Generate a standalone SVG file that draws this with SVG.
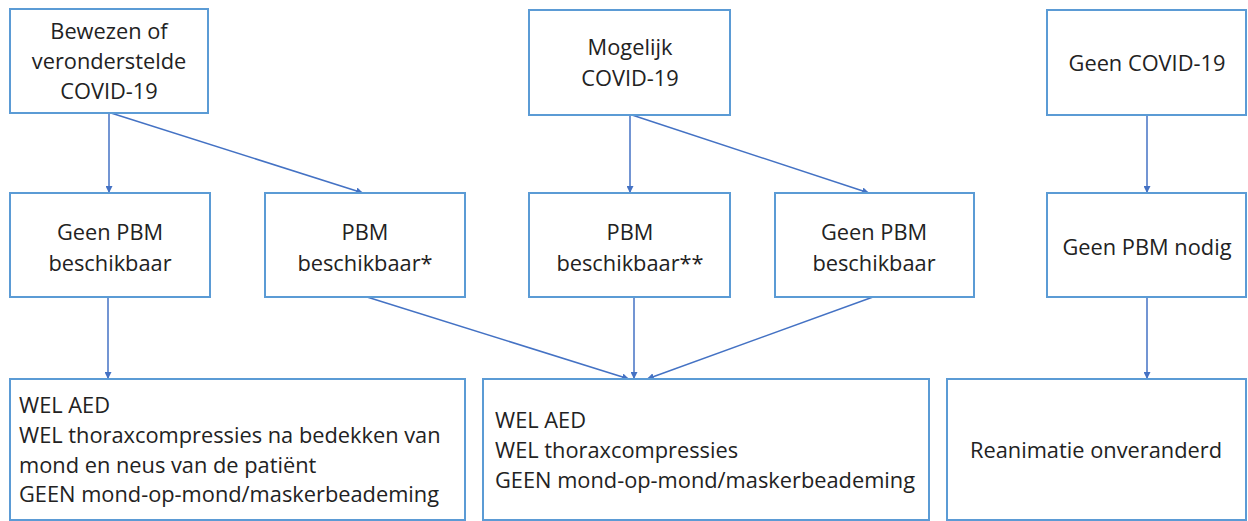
<svg xmlns="http://www.w3.org/2000/svg" width="1248" height="521" viewBox="0 0 1248 521">
<defs>
<style>
.box{fill:#fff;stroke:#5B9BD5;stroke-width:2}
.t{font-family:"Open Sans","Liberation Sans",sans-serif;font-size:21.8px;fill:#222}
.c{text-anchor:middle}
.ln{stroke:#4472C4;stroke-width:1.5;fill:none;marker-end:url(#ah)}
</style>
<marker id="ah" viewBox="0 0 10 10" refX="10" refY="5" markerWidth="7" markerHeight="7" markerUnits="userSpaceOnUse" orient="auto">
<path d="M0,0 L10,5 L0,10 z" fill="#4472C4"/>
</marker>
</defs>
<rect width="1248" height="521" fill="#fff"/>
<g id="connectors">
<line class="ln" x1="109" y1="113" x2="109" y2="193"/>
<line class="ln" x1="111" y1="113" x2="363" y2="193"/>
<line class="ln" x1="630" y1="115" x2="630" y2="193"/>
<line class="ln" x1="632" y1="115" x2="869" y2="193"/>
<line class="ln" x1="1147" y1="115" x2="1147" y2="193"/>
<line class="ln" x1="108" y1="297" x2="108" y2="379"/>
<line class="ln" x1="367" y1="297" x2="629" y2="379"/>
<line class="ln" x1="634" y1="297" x2="634" y2="379"/>
<line class="ln" x1="873" y1="297" x2="647" y2="379"/>
<line class="ln" x1="1147" y1="297" x2="1147" y2="379"/>
</g>
<g id="n1"><rect class="box" x="10" y="9" width="198" height="104"/>
<text class="t c" x="109" y="39">Bewezen of</text><text class="t c" x="109" y="69">veronderstelde</text><text class="t c" x="109" y="99">COVID-19</text></g>
<g id="n2"><rect class="box" x="529" y="10" width="201" height="105"/>
<text class="t c" x="630" y="55">Mogelijk</text><text class="t c" x="630" y="86">COVID-19</text></g>
<g id="n3"><rect class="box" x="1047" y="10" width="199" height="105"/>
<text class="t c" x="1147" y="71">Geen COVID-19</text></g>
<g id="n4"><rect class="box" x="10" y="193" width="200" height="104"/>
<text class="t c" x="110" y="240">Geen PBM</text><text class="t c" x="110" y="271">beschikbaar</text></g>
<g id="n5"><rect class="box" x="265" y="193" width="200" height="104"/>
<text class="t c" x="365" y="240">PBM</text><text class="t c" x="365" y="271">beschikbaar*</text></g>
<g id="n6"><rect class="box" x="529" y="193" width="201" height="104"/>
<text class="t c" x="630" y="240">PBM</text><text class="t c" x="630" y="271">beschikbaar**</text></g>
<g id="n7"><rect class="box" x="775" y="193" width="199" height="104"/>
<text class="t c" x="874" y="240">Geen PBM</text><text class="t c" x="874" y="271">beschikbaar</text></g>
<g id="n8"><rect class="box" x="1047" y="193" width="199" height="104"/>
<text class="t c" x="1147" y="255">Geen PBM nodig</text></g>
<g id="n9"><rect class="box" x="10" y="379" width="455" height="141"/>
<text class="t" x="19" y="413">WEL AED</text>
<text class="t" x="19" y="443">WEL thoraxcompressies na bedekken van</text>
<text class="t" x="19" y="473">mond en neus van de patiënt</text>
<text class="t" x="19" y="502">GEEN mond-op-mond/maskerbeademing</text></g>
<g id="n10"><rect class="box" x="483" y="379" width="446" height="141"/>
<text class="t" x="495" y="428">WEL AED</text>
<text class="t" x="495" y="458">WEL thoraxcompressies</text>
<text class="t" x="495" y="488">GEEN mond-op-mond/maskerbeademing</text></g>
<g id="n11"><rect class="box" x="947" y="379" width="299" height="141"/>
<text class="t c" x="1096" y="458">Reanimatie onveranderd</text></g>
</svg>
